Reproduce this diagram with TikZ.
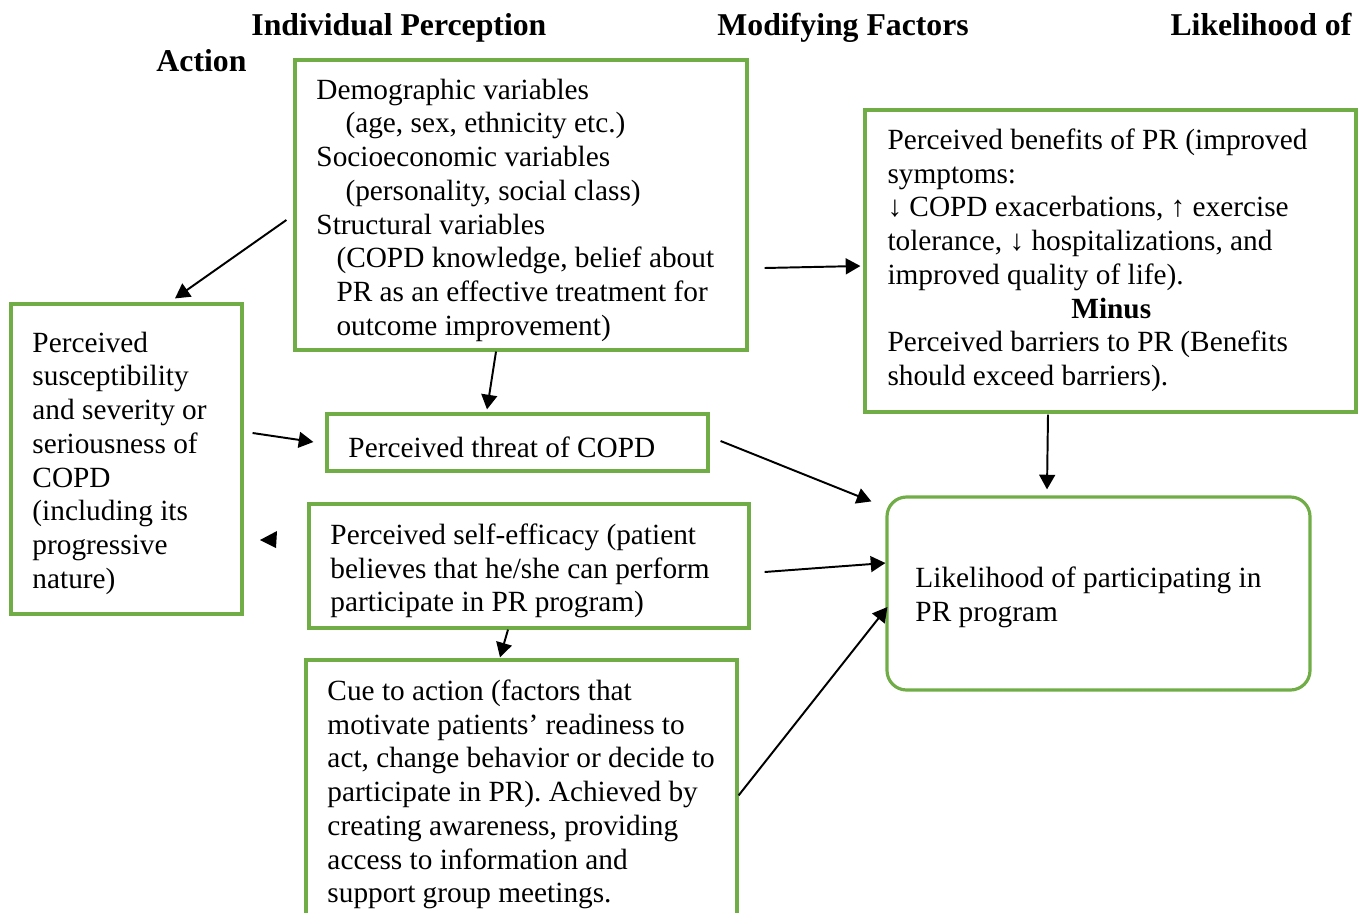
\documentclass[tikz,border=0pt]{standalone}
\usepackage{fontspec}
\setmainfont{Liberation Serif}
\usetikzlibrary{arrows.meta,fit}
\definecolor{boxgreen}{HTML}{70AD47}

\begin{document}
\begin{tikzpicture}[x=0.4095pt, y=-0.4095pt,
  box/.style={draw=boxgreen, line width=1.3pt, inner sep=0pt},
  txt/.style={anchor=north west, inner sep=0pt, align=left, font=\fontsize{12}{13.8}\selectfont, execute at begin node=\strut},
  head/.style={anchor=base west, inner sep=0pt, font=\fontsize{13}{15}\selectfont\bfseries},
  arr/.style={line width=0.8pt, -{Triangle[length=6pt,width=6.5pt]}}]
\useasboundingbox (0,0) rectangle (1360,912);

\node[head] (hindiv) at (251,35) {Individual Perception};
\node[head] (hmod) at (717,35) {Modifying Factors};
\node[head] (hlike) at (1170,35) {Likelihood of};
\node[head] (hact) at (156,71) {Action};

\node[box, fit={(295,60) (747,350)}] (demo) {};
\node[box, fit={(11,304) (242,614)}] (susc) {};
\node[box, fit={(327,414) (708,471)}] (threat) {};
\node[box, fit={(309,504) (749,628)}] (self) {};
\node[box, fit={(306,660) (737,930)}] (cue) {};
\node[box, fit={(865,110) (1356,412)}] (benef) {};
\node[box, rounded corners=8pt, fit={(887,497) (1310,690)}] (likely) {};

\node[txt] (demotxt) at (316,78.4) {Demographic variables\\
  \hspace*{11.9pt}(age, sex, ethnicity etc.)\\
  Socioeconomic variables\\
  \hspace*{11.9pt}(personality, social class)\\
  Structural variables\\
  \hspace*{8.2pt}(COPD knowledge, belief about\\
  \hspace*{8.2pt}PR as an effective treatment for\\
  \hspace*{8.2pt}outcome improvement)};
\node[txt] (susctxt) at (32,331.4) {Perceived\\ susceptibility\\ and severity or\\ seriousness of\\ COPD\\ (including its\\ progressive\\ nature)};
\node[txt] (threattxt) at (348,433.4) {Perceived threat of COPD};
\node[txt] (selftxt) at (330,523.4) {Perceived self-efficacy (patient\\ believes that he/she can perform\\ participate in PR program)};
\node[txt] (cuetxt) at (327,679.4) {Cue to action (factors that\\ motivate patients’ readiness to\\ act, change behavior or decide to\\ participate in PR). Achieved by\\ creating awareness, providing\\ access to information and\\ support group meetings.};
\node[txt] (beneftxt) at (887,128.4) {Perceived benefits of PR (improved\\ symptoms:\\ ↓ COPD exacerbations, ↑ exercise\\ tolerance, ↓ hospitalizations, and\\ improved quality of life).\\
  \hspace*{75.3pt}\textbf{Minus}\\
  Perceived barriers to PR (Benefits\\ should exceed barriers).};
\node[txt] (likelytxt) at (915,566.4) {Likelihood of participating in\\ PR program};

\draw[arr] ([shift={(-7,15)}]demo.west) -- ([shift={(48.5,-4)}]susc.north);
\draw[arr] ([shift={(-25,0)}]demo.south) -- ([shift={(-30.5,-3)}]threat.north);
\draw[arr] ([shift={(9,-26)}]susc.east) -- ([shift={(-12,-0.5)}]threat.west);
\draw[arr] ([shift={(11,-1.5)}]threat.east) -- ([shift={(-14,6)}]likely.north west);
\draw[arr] ([shift={(-62.5,1)}]benef.south) -- ([shift={(-51.5,-6)}]likely.north);
\draw[arr] ([shift={(14,6)}]self.east) -- ([shift={(0,-30.5)}]likely.west);
\draw[arr] ([shift={(-21,0)}]self.south) -- ([shift={(-21.5,-1)}]cue.north);
\draw[arr] ([shift={(0,137)}]cue.north east) -- ([shift={(2,13.5)}]likely.west);
\draw[arr] ([shift={(16,63)}]demo.east) -- ([shift={(-3,5)}]benef.west);
\fill (260,540) -- (277,531) -- (276,548) -- cycle;
\end{tikzpicture}
\end{document}
